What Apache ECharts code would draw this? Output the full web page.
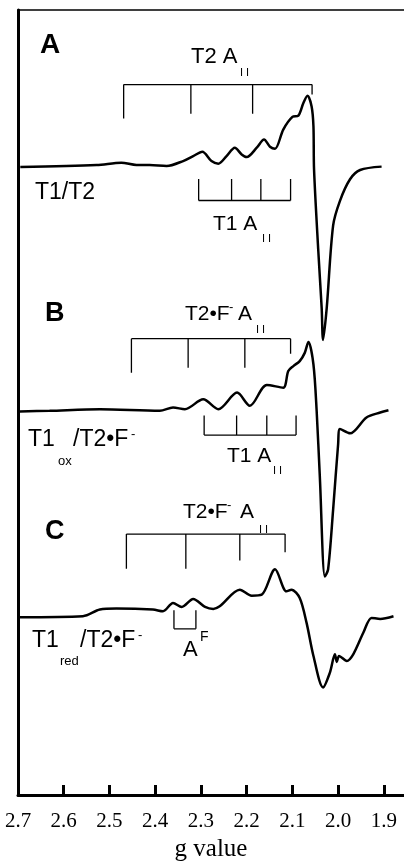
<!DOCTYPE html>
<html>
<head>
<meta charset="utf-8">
<script src="https://cdn.jsdelivr.net/npm/echarts@6/dist/echarts.min.js"></script>
<style>
html, body { margin: 0; padding: 0; background: #fff; }
#container { width: 404px; height: 867px; }
</style>
</head>
<body>
<div id="container"></div>
<script>
// EPR spectra, g value vs. intensity (arbitrary units, relative to each baseline)
var gA = [2.695, 2.528, 2.474, 2.441, 2.412, 2.375, 2.339, 2.317, 2.297, 2.277, 2.262, 2.244, 2.226, 2.211, 2.200, 2.178, 2.162, 2.149, 2.138, 2.120, 2.100, 2.087, 2.076, 2.067, 2.058, 2.054, 2.0527, 2.0437, 2.036, 2.033, 2.025, 2.011, 1.996, 1.974, 1.952, 1.905];
var iA = [0, 2, 4.4, 2, 2, 1, 6, 11, 15.4, 6, 3.4, 11, 19.4, 12.7, 10, 19.4, 27.7, 20.4, 18.4, 37.7, 50.4, 51.7, 64.4, 71.7, 61, 41, -2.3, -82, -142, -174, -142, -59, -34, -12.3, -3, 0.4];

var gB = [2.696, 2.631, 2.521, 2.390, 2.361, 2.335, 2.295, 2.262, 2.221, 2.193, 2.156, 2.120, 2.109, 2.098, 2.084, 2.073, 2.065, 2.054, 2.047, 2.040, 2.029, 2.022, 2.011, 2.000, 1.996, 1.974, 1.938, 1.908, 1.890];
var iB = [0, 0.7, 2.3, 0.7, 4, 2.3, 12.3, 2.3, 19, 5.7, 26.7, 24, 40.7, 45.7, 50.7, 59, 70, 47.3, 0.7, -66, -166, -159, -99, -32.7, -17.7, -22, -6, -1, 1.3];

var gC = [2.696, 2.558, 2.521, 2.485, 2.405, 2.383, 2.361, 2.342, 2.317, 2.291, 2.273, 2.259, 2.215, 2.189, 2.167, 2.138, 2.113, 2.102, 2.084, 2.069, 2.054, 2.033, 2.018, 2.007, 2.003, 1.998, 1.981, 1.967, 1.945, 1.927, 1.908, 1.879];
var iC = [0, 1, 7.7, 8.7, 7.7, 6, 14.3, 10.3, 18.3, 10.3, 8.3, 11, 27.7, 21.7, 22.7, 48.3, 26, 27.7, 19.3, -5.7, -39, -70.7, -55.7, -37.3, -45, -39, -44, -37.3, -15.7, -0.7, -1.7, 1];

// baseline of each trace on the shared vertical scale
var baseA = 632, baseB = 386, baseC = 179;

// x axis tick labels
var gTicks = [2.7, 2.6, 2.5, 2.4, 2.3, 2.2, 2.1, 2.0, 1.9];

// hyperfine stick diagrams: g of each stick, level of the bar, end of each stick
var sticksA_T2 = [2.469, 2.322, 2.187, 2.057];
var barA_T2 = 715, endsA_T2 = [680.7, 685.7, 685.7, 705];
var sticksA_T1 = [2.305, 2.233, 2.169, 2.104];
var barA_T1 = 598.3, endsA_T1 = [620, 620, 620, 620];
var sticksB_T2 = [2.452, 2.328, 2.204, 2.104];
var barB_T2 = 459.3, endsB_T2 = [425, 430, 430, 444];
var sticksB_T1 = [2.293, 2.222, 2.156, 2.092];
var barB_T1 = 362.3, endsB_T1 = [382, 382, 382, 382];
var sticksC_T2 = [2.463, 2.333, 2.215, 2.116];
var barC_T2 = 262.7, endsC_T2 = [227.7, 227.7, 236, 244.3];
var sticksC_AF = [2.359, 2.311];
var barC_AF = 167.3, endsC_AF = [186, 186];

var dom = document.getElementById("container");
var myChart = echarts.init(dom);

function trace(gs, vals, base) {
    var d = [];
    for (var i = 0; i < gs.length; i++) d.push([gs[i], base + vals[i]]);
    return {
        type: 'line', data: d, smooth: 0.3, showSymbol: false, silent: true,
        lineStyle: { color: '#000', width: 2.5 }, z: 3
    };
}

function seg(p, q) {
    return {
        type: 'line', data: [p, q], showSymbol: false, silent: true,
        lineStyle: { color: '#000', width: 1.3 }, z: 2
    };
}

function sticks(gs, bar, ends) {
    var out = [seg([gs[0], bar], [gs[gs.length - 1], bar])];
    for (var i = 0; i < gs.length; i++) out.push(seg([gs[i], bar], [gs[i], ends[i]]));
    return out;
}

var series = [trace(gA, iA, baseA), trace(gB, iB, baseB), trace(gC, iC, baseC)]
    .concat(sticks(sticksA_T2, barA_T2, endsA_T2))
    .concat(sticks(sticksA_T1, barA_T1, endsA_T1))
    .concat(sticks(sticksB_T2, barB_T2, endsB_T2))
    .concat(sticks(sticksB_T1, barB_T1, endsB_T1))
    .concat(sticks(sticksC_T2, barC_T2, endsC_T2))
    .concat(sticks(sticksC_AF, barC_AF, endsC_AF));

var SANS = '"Liberation Sans", Arial, sans-serif';
function txt(s, x, y, size, bold) {
    return {
        type: 'text', x: x, y: y, z: 10,
        style: {
            text: s, fill: '#000', align: 'left', verticalAlign: 'middle',
            font: (bold ? 'bold ' : '') + size + 'px ' + SANS
        }
    };
}

var labels = [
    txt('A', 40, 45, 28, true),
    txt('T2 A', 191, 57, 22), txt('I I', 240, 73, 11),
    txt('T1/T2', 35, 192.5, 23),
    txt('T1 A', 213, 224, 21), txt('I I', 262, 239, 11),

    txt('B', 45, 314, 27, true),
    txt('T2\u2022F', 185, 314, 21), txt('-', 229, 307, 13), txt('A', 238, 314, 21), txt('I I', 256, 330, 11),
    txt('T1', 28, 440, 23), txt('ox', 58, 461, 13), txt('/T2\u2022F', 73, 440, 23), txt('-', 131, 434, 13),
    txt('T1 A', 227, 456, 21), txt('I I', 273, 471, 11),

    txt('C', 45, 531.5, 27, true),
    txt('T2\u2022F', 183, 512, 21), txt('-', 227, 505, 13), txt('A', 240, 512, 21), txt('I I', 259, 530, 11),
    txt('T1', 32, 641, 23), txt('red', 60, 661, 13), txt('/T2\u2022F', 80, 641, 23), txt('-', 138, 635, 13),
    txt('A', 183, 650, 22), txt('F', 200, 637, 14)
];

myChart.setOption({
    animation: false,
    grid: { left: 18, right: 0, top: 10, bottom: 67 },
    xAxis: [{
        type: 'value', min: 1.856, max: 2.7, inverse: true,
        name: 'g value', nameLocation: 'middle', nameGap: 31,
        nameTextStyle: { fontFamily: '"Liberation Serif", serif', fontSize: 25, color: '#000' },
        axisLine: { lineStyle: { color: '#000', width: 3 } },
        axisTick: { show: true, inside: true, length: 10, customValues: gTicks, lineStyle: { color: '#000', width: 3 } },
        axisLabel: {
            margin: 16, color: '#000', fontFamily: '"Liberation Serif", serif', fontSize: 21,
            customValues: gTicks,
            formatter: function (v) { return v.toFixed(1); }
        },
        splitLine: { show: false }
    }, {
        type: 'value', min: 1.856, max: 2.7, inverse: true, position: 'top',
        axisLine: { lineStyle: { color: '#000', width: 1.5 } },
        axisTick: { show: false }, axisLabel: { show: false }, splitLine: { show: false }
    }],
    yAxis: {
        type: 'value', min: 0, max: 790,
        axisLine: { show: true, lineStyle: { color: '#000', width: 3 } },
        axisTick: { show: false }, axisLabel: { show: false }, splitLine: { show: false }
    },
    series: series,
    graphic: labels
});
</script>
</body>
</html>
